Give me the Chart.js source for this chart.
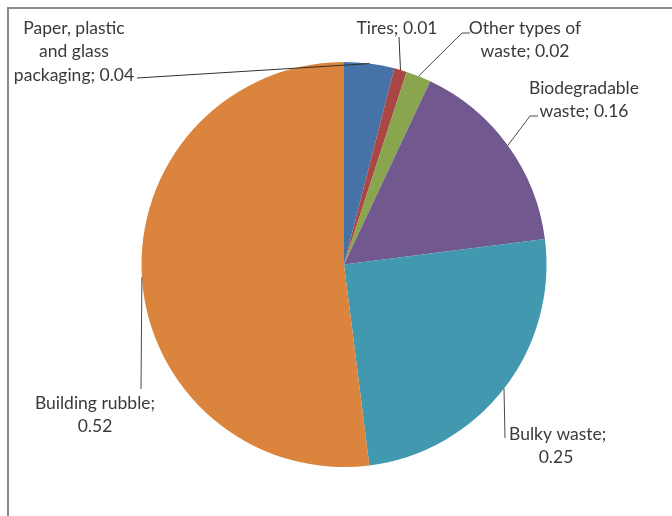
<!DOCTYPE html>
<html>
<head>
<meta charset="utf-8">
<script src="https://cdn.jsdelivr.net/npm/chart.js@4/dist/chart.umd.min.js"></script>
<style>
html,body{margin:0;padding:0;background:#fff;}
#c{display:block;}
</style>
</head>
<body>
<canvas id="c" width="672" height="516"></canvas>
<script>
// ---- data ----
const categories = ["Paper, plastic and glass packaging", "Tires", "Other types of waste", "Biodegradable waste", "Bulky waste", "Building rubble"];
const values = [0.04, 0.01, 0.02, 0.16, 0.25, 0.52];
const labelLines = [
  ["Paper, plastic", "and glass", "packaging; 0.04"],
  ["Tires; 0.01"],
  ["Other types of", "waste; 0.02"],
  ["Biodegradable", "waste; 0.16"],
  ["Bulky waste;", "0.25"],
  ["Building rubble;", "0.52"]
];
const colors = ["#4672A8", "#AA4643", "#89A54E", "#71588F", "#4198AF", "#DB843D"];

// label placement (layout only): text centre x, first line y, leader elbow points
const labelLayout = [
  {x: 74,  y: 28, elbow: [[137, 78]]},
  {x: 397, y: 28, elbow: [[399, 37]]},
  {x: 525, y: 28, elbow: [[470, 33], [462, 33]]},
  {x: 584, y: 88, elbow: [[538, 116], [530, 116]]},
  {x: 556, y: 434, elbow: [[505, 438]], lines: ["left", "center"], leftX: 509},
  {x: 95,  y: 403, elbow: [[141, 389]]}
];

const framePlugin = {
  id: 'frame',
  beforeDraw(chart) {
    const ctx = chart.ctx;
    ctx.save();
    ctx.strokeStyle = '#8a8a8a';
    ctx.lineWidth = 2;
    ctx.beginPath();
    ctx.moveTo(8, 520);
    ctx.lineTo(8, 8);
    ctx.lineTo(680, 8);
    ctx.stroke();
    ctx.restore();
  }
};

const labelPlugin = {
  id: 'pieLabels',
  afterDatasetsDraw(chart) {
    const ctx = chart.ctx;
    const meta = chart.getDatasetMeta(0);
    ctx.save();
    meta.data.forEach((arc, i) => {
      const p = arc.getProps(['x', 'y', 'startAngle', 'endAngle', 'outerRadius'], true);
      const mid = (p.startAngle + p.endAngle) / 2;
      const ax = p.x + Math.cos(mid) * p.outerRadius;
      const ay = p.y + Math.sin(mid) * p.outerRadius;
      const L = labelLayout[i];
      ctx.strokeStyle = i < 2 ? '#303030' : '#4a4a4a';
      ctx.lineWidth = 1;
      ctx.beginPath();
      ctx.moveTo(ax, ay);
      for (let k = L.elbow.length - 1; k >= 0; k--) ctx.lineTo(L.elbow[k][0], L.elbow[k][1]);
      ctx.stroke();
      ctx.fillStyle = '#3a3a3a';
      ctx.font = '17.5px Lato, "Open Sans", sans-serif';
      ctx.textBaseline = 'middle';
      labelLines[i].forEach((t, j) => {
        const y = L.y + j * 23.5;
        if (L.lines && L.lines[j] === 'left') {
          ctx.textAlign = 'left';
          ctx.fillText(t, L.leftX, y);
        } else {
          ctx.textAlign = 'center';
          ctx.fillText(t, L.x, y);
        }
      });
    });
    ctx.restore();
  }
};

new Chart(document.getElementById('c'), {
  type: 'pie',
  data: {
    labels: categories,
    datasets: [{
      data: values,
      backgroundColor: colors,
      borderWidth: 0
    }]
  },
  options: {
    responsive: false,
    animation: false,
    layout: {padding: {left: 141, right: 125, top: 62, bottom: 49}},
    plugins: {legend: {display: false}, tooltip: {enabled: false}}
  },
  plugins: [framePlugin, labelPlugin]
});
</script>
</body>
</html>
